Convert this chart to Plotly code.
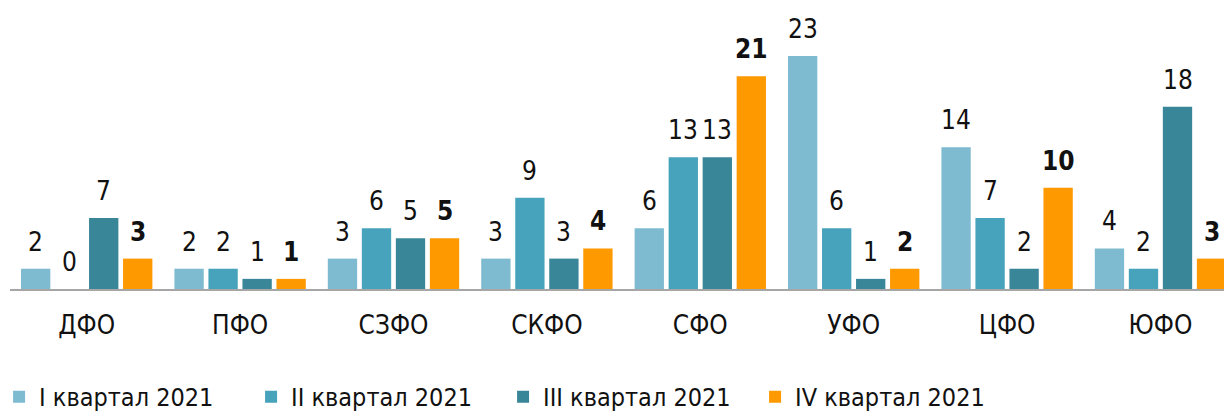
import plotly.graph_objects as go

categories = ["ДФО", "ПФО", "СЗФО", "СКФО", "СФО", "УФО", "ЦФО", "ЮФО"]
series_names = ["I квартал 2021", "II квартал 2021", "III квартал 2021", "IV квартал 2021"]
q1 = [2, 2, 3, 3, 6, 23, 14, 4]
q2 = [0, 2, 6, 9, 13, 6, 7, 2]
q3 = [7, 1, 5, 3, 13, 1, 2, 18]
q4 = [3, 1, 5, 4, 21, 2, 10, 3]
colors = ["#7FBBD0", "#47A3BB", "#3A8699", "#FF9900"]

series = [q1, q2, q3, q4]
FONT = "DejaVu Sans Condensed, DejaVu Sans"
FS = 26
bargap = 0.113
bargroupgap = 0.138
n = len(series)
slot = (1 - bargap) / n

fig = go.Figure()
xs = list(range(len(categories)))
for name, vals, col in zip(series_names, series, colors):
    fig.add_trace(go.Bar(x=xs, y=vals, name=name, marker_color=col,
                         marker_line_width=0))

annotations = []
for k, vals in enumerate(series):
    off = (k - (n - 1) / 2) * slot
    for i, v in enumerate(vals):
        txt = f"<b>{v}</b>" if k == 3 else str(v)
        annotations.append(dict(x=i + off, y=v, text=txt, showarrow=False,
                                yanchor="middle", yshift=27,
                                font=dict(family=FONT, size=FS, color="#111111")))

fig.update_layout(
    width=1224, height=412,
    barmode="group", bargap=bargap, bargroupgap=bargroupgap,
    plot_bgcolor="white", paper_bgcolor="white",
    margin=dict(l=10, r=0, t=0, b=123, autoexpand=False),
    font=dict(family=FONT, size=FS, color="#111111"),
    annotations=annotations,
    xaxis=dict(tickvals=xs, ticktext=categories, range=[-0.5, 7.414],
               showline=True, linecolor="#A6A6A6", linewidth=2,
               showgrid=False, zeroline=False, ticks="",
               ticklabelstandoff=12,
               tickfont=dict(family=FONT, size=FS, color="#111111")),
    yaxis=dict(range=[0, 28.53], visible=False, showgrid=False, zeroline=False),
    showlegend=True,
    legend=dict(orientation="h", x=-0.009, xanchor="left", y=-0.3737, yanchor="middle",
                font=dict(family=FONT, size=25, color="#111111"),
                entrywidth=207, entrywidthmode="pixels",
                traceorder="normal"),
)

fig.write_html("out.html", config={"displayModeBar": False},
               post_script="document.body.style.margin='0';document.body.style.overflow='hidden';")
